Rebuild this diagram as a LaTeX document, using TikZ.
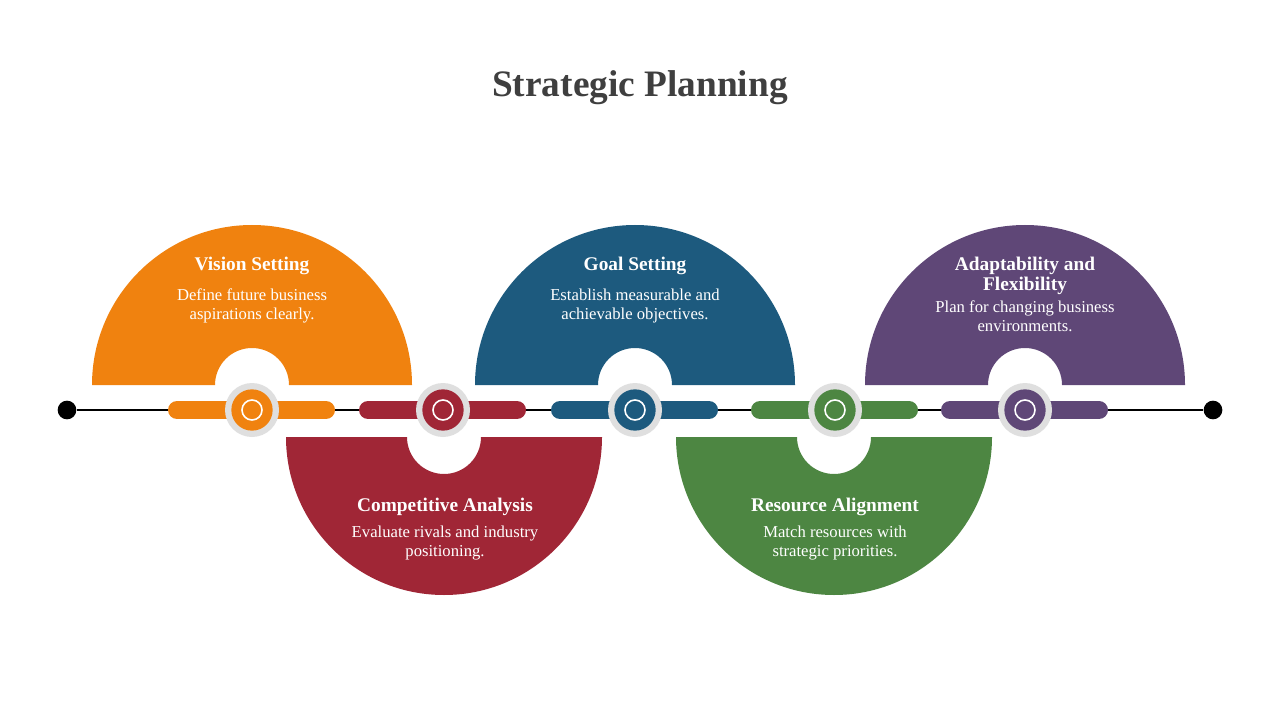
\documentclass[tikz,border=0pt]{standalone}
\usepackage{fontspec}
\setmainfont{Liberation Serif}
\definecolor{cOrange}{HTML}{F0820F}
\definecolor{cRed}{HTML}{A02636}
\definecolor{cBlue}{HTML}{1D5A7E}
\definecolor{cGreen}{HTML}{4D8642}
\definecolor{cPurple}{HTML}{5F4777}
\definecolor{cTitle}{HTML}{3F3F3F}
\tikzset{
  head/.style={text=white, font=\bfseries\fontsize{14.5}{15.5}\selectfont, align=center},
  body/.style={text=white, font=\fontsize{12.5}{14.5}\selectfont, align=center},
  bar/.style={line width=13.5pt, line cap=round},
  dotend/.style={circle, fill=black, inner sep=0pt, minimum size=14pt}
}
\newcommand{\halfup}[2]{% center x, colour
  \fill[#2] (#1-160,385) arc[start angle=180,end angle=360,radius=160] -- (#1+37,385) arc[start angle=360,end angle=180,radius=37] -- cycle;}
\newcommand{\halfdown}[2]{%
  \fill[#2] (#1-158,437) arc[start angle=180,end angle=0,radius=158] -- (#1+37,437) arc[start angle=0,end angle=180,radius=37] -- cycle;}
\newcommand{\marker}[3]{% name, x, colour
  \draw[bar, #3] (#2-75,410) -- (#2+74,410);
  \node[circle, fill=gray!25, inner sep=0pt, minimum size=40.5pt] (#1) at (#2,410) {};
  \node[circle, fill=#3, inner sep=0pt, minimum size=31pt] at (#1) {};
  \draw[white, line width=1.2pt] (#1) circle[radius=10];}
\begin{document}
\begin{tikzpicture}[x=0.75pt,y=-0.75pt]
  \useasboundingbox (0,0) rectangle (1280,720);
  \node[text=cTitle, font=\bfseries\fontsize{28}{32}\selectfont] (title) at (640,88) {Strategic Planning};
  % half discs
  \halfup{252}{cOrange}
  \halfup{635}{cBlue}
  \halfup{1025}{cPurple}
  \halfdown{444}{cRed}
  \halfdown{834}{cGreen}
  % timeline
  \node[dotend] (start) at (67,410) {};
  \node[dotend] (end) at (1213,410) {};
  \draw[line width=1.5pt] (start) -- (end);
  \marker{m1}{252}{cOrange}
  \marker{m2}{443}{cRed}
  \marker{m3}{635}{cBlue}
  \marker{m4}{835}{cGreen}
  \marker{m5}{1025}{cPurple}
  % texts
  \node[head] (h1) at (252,266) {Vision Setting};
  \node[body] (b1) at (252,306) {Define future business\\aspirations clearly.};
  \node[head] (h3) at (635,266) {Goal Setting};
  \node[body] (b3) at (635,306) {Establish measurable and\\achievable objectives.};
  \node[head] (h5) at (1025,276) {Adaptability and\\Flexibility};
  \node[body] (b5) at (1025,316) {Plan for changing business\\environments.};
  \node[head] (h2) at (445,507) {Competitive Analysis};
  \node[body] (b2) at (445,543) {Evaluate rivals and industry\\positioning.};
  \node[head] (h4) at (835,507) {Resource Alignment};
  \node[body] (b4) at (835,543) {Match resources with\\strategic priorities.};
\end{tikzpicture}
\end{document}
